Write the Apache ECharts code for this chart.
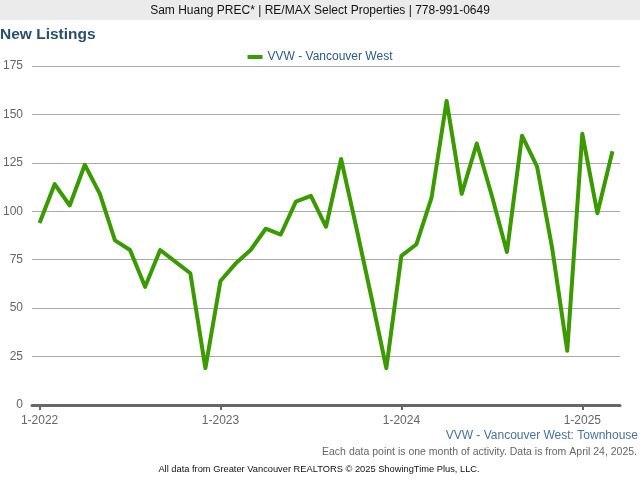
<!DOCTYPE html>
<html>
<head>
<meta charset="utf-8">
<script src="https://cdn.jsdelivr.net/npm/echarts@6/dist/echarts.min.js"></script>
<style>
html,body{margin:0;padding:0;background:#fff;}
#chart{width:640px;height:480px;}
</style>
</head>
<body>
<div id="chart"></div>
<script>
// Monthly categories Jan 2022 .. Mar 2025
var years = [2022, 2023, 2024, 2025];
var categories = [];
years.forEach(function (y) {
  for (var m = 1; m <= 12; m++) {
    if (y === 2025 && m > 3) break;
    categories.push(m + '-' + y);
  }
});
var seriesName = 'VVW - Vancouver West';
var newListings = [
  94, 114, 103, 124, 109, 85, 80, 61, 80, 74, 68, 19,
  64, 73, 80, 91, 88, 105, 108, 92, 127, 92, 56, 19,
  77, 83, 107, 157, 109, 135, 108, 79, 139, 123, 81, 28,
  140, 99, 131
];
var yTicks = [0, 25, 50, 75, 100, 125, 150, 175];

var chart = echarts.init(document.getElementById('chart'), null, {renderer: 'canvas'});
var font = 'Liberation Sans, Arial, sans-serif';
function yearTick(i) { return i % 12 === 0; }

chart.setOption({
  animation: false,
  backgroundColor: '#ffffff',
  textStyle: {fontFamily: font},
  grid: {left: 32, right: 20, top: 66, bottom: 75, containLabel: false},
  legend: {
    top: 46, left: 'center',
    icon: 'rect', itemWidth: 15, itemHeight: 4, itemGap: 6,
    textStyle: {color: '#2c5a8c', fontSize: 12, fontFamily: font},
    data: [seriesName]
  },
  xAxis: {
    type: 'category',
    data: categories,
    boundaryGap: true,
    axisLine: {lineStyle: {color: '#666666', width: 3}},
    axisTick: {show: true, alignWithLabel: true, interval: function (i) { return yearTick(i); }, length: 5, lineStyle: {color: '#666666', width: 2}},
    axisLabel: {interval: function (i) { return yearTick(i); }, color: '#666666', fontSize: 12, margin: 10, fontFamily: font},
    splitLine: {show: false}
  },
  yAxis: {
    type: 'value',
    min: yTicks[0], max: yTicks[yTicks.length - 1], interval: 25,
    axisLine: {show: false},
    axisTick: {show: false},
    axisLabel: {color: '#666666', fontSize: 12, margin: 9, fontFamily: font},
    splitLine: {lineStyle: {color: '#aaaaaa', width: 1}}
  },
  series: [{
    name: seriesName,
    type: 'line',
    data: newListings,
    showSymbol: false,
    symbol: 'none',
    lineStyle: {color: '#3a9a00', width: 4, join: 'round'},
    itemStyle: {color: '#3a9a00'}
  }],
  graphic: [
    {type: 'rect', left: 0, top: 0, shape: {width: 640, height: 20}, style: {fill: '#ebebeb'}, z: -1},
    {type: 'text', x: 320, y: 11, style: {text: 'Sam Huang PREC* | RE/MAX Select Properties | 778-991-0649', fill: '#111111', font: '12px ' + font, textAlign: 'center', textVerticalAlign: 'middle'}},
    {type: 'text', x: 0, y: 35, style: {text: 'New Listings', fill: '#2b4d6f', font: 'bold 15.5px ' + font, textAlign: 'left', textVerticalAlign: 'middle'}},
    {type: 'text', x: 638, y: 436, style: {text: 'VVW - Vancouver West: Townhouse', fill: '#4a71a0', font: '12px ' + font, textAlign: 'right', textVerticalAlign: 'middle'}},
    {type: 'text', x: 637, y: 452, style: {text: 'Each data point is one month of activity. Data is from April 24, 2025.', fill: '#666666', font: '10.5px ' + font, textAlign: 'right', textVerticalAlign: 'middle'}},
    {type: 'text', x: 319, y: 469, style: {text: 'All data from Greater Vancouver REALTORS \u00a9 2025 ShowingTime Plus, LLC.', fill: '#111111', font: '9.3px ' + font, textAlign: 'center', textVerticalAlign: 'middle'}}
  ]
});
</script>
</body>
</html>
